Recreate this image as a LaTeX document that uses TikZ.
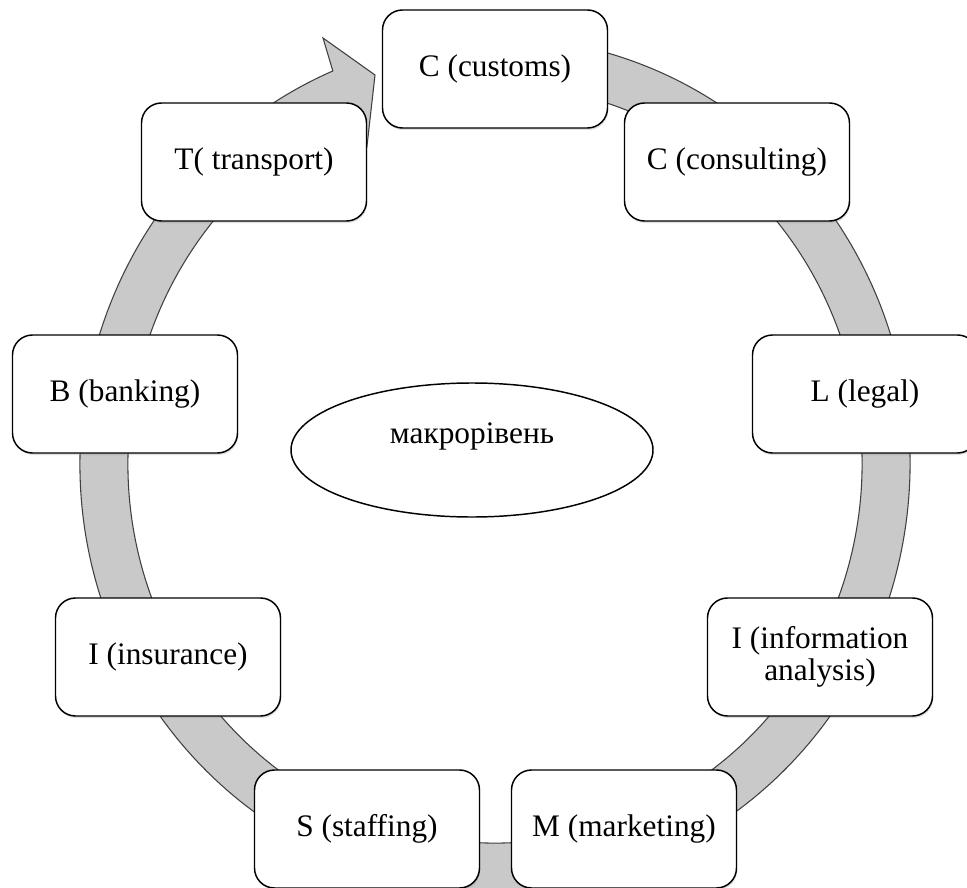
\documentclass[tikz,border=0pt]{standalone}
\usepackage{fontspec}
\setmainfont{Liberation Serif}
\usetikzlibrary{shapes.geometric,shadows,calc}
\tikzset{
  box/.style={draw=black, line width=1.1pt, fill=white, rounded corners=15pt,
    minimum width=168.75pt, minimum height=88.5pt, align=center,
    font=\fontsize{23.5}{24}\selectfont,
    drop shadow={opacity=0.25, shadow xshift=0.6pt, shadow yshift=-1.5pt}},
  ring/.style={fill=black!21, draw=black!75, line width=0.8pt},
  hub/.style={draw, ellipse, line width=1.1pt, minimum width=271.5pt,
    minimum height=100.5pt, font=\fontsize{23.5}{24}\selectfont,
    text height=12pt, text depth=22.5pt}
}
\begin{document}
\begin{tikzpicture}[x=0.75pt, y=-0.75pt]
\useasboundingbox (0,0) rectangle (967,888);
\coordinate (O) at (495,464);
% the circular arrow behind the boxes
\draw[ring] ($(O)+(-80:415 and 427)$)
  arc[start angle=-80, end angle=247, x radius=415, y radius=427]
  -- (323,38) -- (375,75) -- (367,146) -- ($(O)+(247:367 and 379)$)
  arc[start angle=247, end angle=-80, x radius=367, y radius=379] -- cycle;
\node(C1) [box] at (495,69) {C (customs)};
\node(C2) [box] at (737,162) {C (consulting)};
\node(L) [box] at (865,394) {L (legal)};
\node(I1) [box] at (820,657) {I (information\\ analysis)};
\node(M) [box] at (624,829) {M (marketing)};
\node(S) [box] at (367,829) {S (staffing)};
\node(I2) [box] at (168,657) {I (insurance)};
\node(B) [box] at (125,394) {B (banking)};
\node(T) [box] at (254,162) {T( transport)};
\node(K) [hub] at (472,450) {макрорівень};
\end{tikzpicture}
\end{document}
